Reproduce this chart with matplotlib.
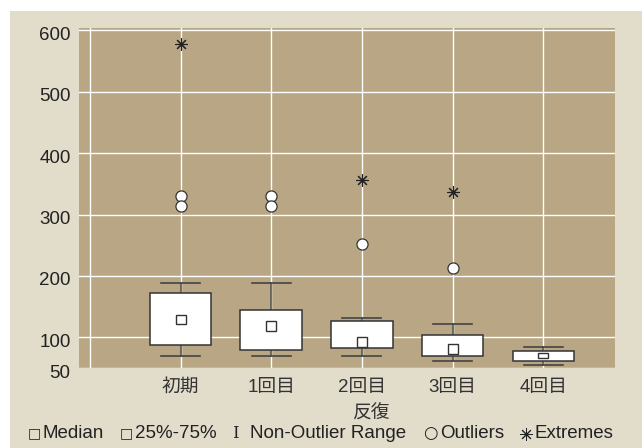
import matplotlib
matplotlib.use("Agg")
import matplotlib.pyplot as plt
import matplotlib.transforms as mtransforms
from matplotlib.patches import Rectangle

plt.rcParams['font.family'] = ['Liberation Sans', 'Noto Sans CJK JP', 'DejaVu Sans']

categories = ['初期', '1回目', '2回目', '3回目', '4回目']
q1 = [87.5, 80, 82, 69.6, 62]
q3 = [171.5, 145, 126.5, 104, 77]
medians = [129, 118, 93, 81, 70]
whisker_lo = [69.6, 69.6, 69.6, 61.5, 54.5]
whisker_hi = [189, 189, 131, 122, 84]
outliers = [[331, 313.5], [331, 313.5], [252], [213], []]
extremes = [[577.6], [], [357], [337], []]
yticks = [50, 100, 200, 300, 400, 500, 600]
xlabel = '反復'

W, H = 642, 448
fig = plt.figure(figsize=(W/100, H/100), dpi=100, facecolor='#e2dccb')
fig.patches.append(Rectangle((0, 0), 10/W, 1, transform=fig.transFigure,
                             facecolor='white', edgecolor='none', zorder=-10))
fig.patches.append(Rectangle((0, (H - 11)/H), 1, 11/H, transform=fig.transFigure,
                             facecolor='white', edgecolor='none', zorder=-10))
ax = fig.add_axes([79/W, (H-368)/H, (615-79)/W, (368-28)/H])
ax.set_facecolor('#b8a685')
for s in ax.spines.values():
    s.set_visible(False)

ax.set_xlim(-0.12, 5.79)
ax.set_ylim(50, 604)
ax.set_xticks(range(0, 6))
ax.set_xticklabels([''] + categories, fontsize=13.5, color='#333333')
ax.set_yticks(yticks)
ax.set_yticklabels([str(v) for v in yticks], fontsize=13.5, color='#222222')
ax.tick_params(length=0, pad=8)
ax.tick_params(axis='y', pad=6)
offset = mtransforms.ScaledTranslation(0, -3/100, fig.dpi_scale_trans)
for lbl in ax.get_yticklabels():
    lbl.set_transform(lbl.get_transform() + offset)
ax.grid(True, color='white', linewidth=1.0, zorder=0)
ax.set_axisbelow(True)

box_w = 0.68
cap_w = 0.43
for i in range(len(categories)):
    x = i + 1
    ax.plot([x, x], [q3[i], whisker_hi[i]], color='#555555', lw=1.2, zorder=2)
    ax.plot([x, x], [whisker_lo[i], q1[i]], color='#555555', lw=1.2, zorder=2)
    ax.plot([x - cap_w/2, x + cap_w/2], [whisker_hi[i]]*2, color='#444444', lw=1.2, zorder=2)
    ax.plot([x - cap_w/2, x + cap_w/2], [whisker_lo[i]]*2, color='#444444', lw=1.2, zorder=2)
    ax.add_patch(Rectangle((x - box_w/2, q1[i]), box_w, q3[i] - q1[i],
                           facecolor='white', edgecolor='#333333', lw=1.1, zorder=3))
    mh = min(16, 0.5*(q3[i] - q1[i]))
    ax.add_patch(Rectangle((x - 0.055, medians[i] - mh/2), 0.11, mh,
                           facecolor='white', edgecolor='#333333', lw=1.0, zorder=4))
    if outliers[i]:
        ax.plot([x]*len(outliers[i]), outliers[i], 'o', ms=8, mfc='white', mec='#333333',
                mew=0.9, zorder=5, clip_on=False)
    if extremes[i]:
        ax.plot([x]*len(extremes[i]), extremes[i], marker=(8, 2, 0), ls='none', ms=9,
                color='#222222', mew=0.8, zorder=5)

fig.text(371/W, 1 - 414/H, xlabel, ha='center', va='center', fontsize=13.5, color='#333333')

ly = 1 - 433/H
def t(x, s, fs=13.5, **kw):
    fig.text(x/W, ly, s, ha='left', va='center', fontsize=fs, color='#222222', **kw)

t(28, '□', fs=10, family=['DejaVu Sans'])
t(43, 'Median')
t(120, '□', fs=10, family=['DejaVu Sans'])
t(135, '25%-75%')
t(232, 'I', fs=12, family=['DejaVu Serif'])
t(250, 'Non-Outlier Range')
t(423, '○', fs=12, family=['DejaVu Sans'])
t(440, 'Outliers')
fig.lines.append(plt.Line2D([526/W], [ly - 0.002], marker=(8, 2, 0), ms=9, color='#222222',
                            mew=0.7, transform=fig.transFigure))
t(535, 'Extremes')

fig.savefig('out.png', dpi=100, facecolor=fig.get_facecolor())
